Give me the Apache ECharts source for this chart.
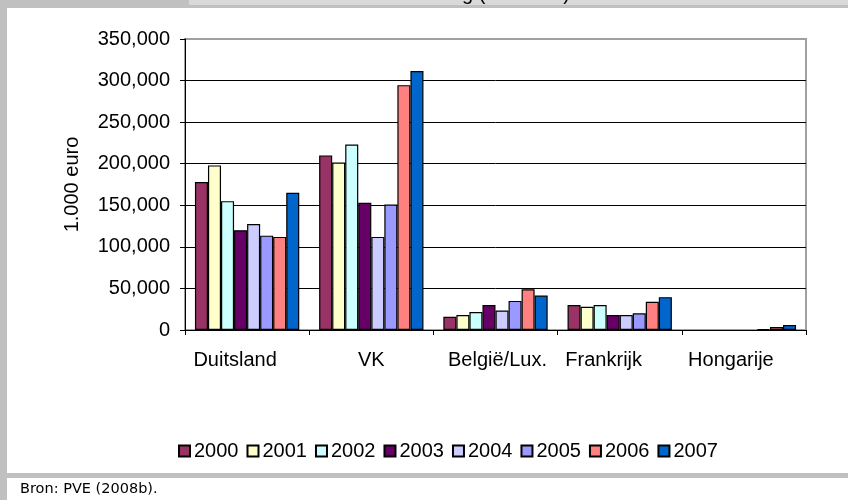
<!DOCTYPE html>
<html>
<head>
<meta charset="utf-8">
<script src="https://cdn.jsdelivr.net/npm/echarts@6/dist/echarts.min.js"></script>
<style>
html,body{margin:0;padding:0;background:#fff;}
#c{width:848px;height:500px;}
</style>
</head>
<body>
<div id="c"></div>
<script>
var categories = ['Duitsland', 'VK', 'België/Lux.', 'Frankrijk', 'Hongarije'];
var years = ['2000', '2001', '2002', '2003', '2004', '2005', '2006', '2007'];
var v2000 = [178000, 210000, 16000, 30000, null];
var v2001 = [198000, 201500, 18000, 28000, null];
var v2002 = [155000, 223000, 21500, 30000, null];
var v2003 = [120000, 153000, 30000, 18000, null];
var v2004 = [127500, 112000, 23500, 18000, null];
var v2005 = [113500, 151000, 35000, 20000, 1000];
var v2006 = [112000, 294500, 49000, 34000, 3500];
var v2007 = [165000, 311500, 41500, 39500, 6000];
var yTicks = [0, 50000, 100000, 150000, 200000, 250000, 300000, 350000];
var colors = ['#993366', '#FFFFCC', '#CCFFFF', '#660066', '#CCCCFF', '#9999FF', '#FF8080', '#0066CC'];
var seriesValues = [v2000, v2001, v2002, v2003, v2004, v2005, v2006, v2007];

var font = 'Liberation Sans, Arial, sans-serif';
var chart = echarts.init(document.getElementById('c'), null, {renderer: 'canvas'});

var series = years.map(function (y, i) {
  return {
    name: y,
    type: 'bar',
    data: seriesValues[i],
    barGap: '0%',
    barCategoryGap: '16%',
    itemStyle: {color: colors[i], borderColor: '#000', borderWidth: 1.2},
    emphasis: {disabled: true}
  };
});

var splitColors = yTicks.map(function (t, i) { return i === yTicks.length - 1 ? '#a0a0a0' : '#000'; });

// label shifts (Excel-like label placement)
var labelShift = {'Duitsland': -12, 'VK': 0, 'België/Lux.': 2, 'Frankrijk': -16, 'Hongarije': -13};
var rich = {};
categories.forEach(function (c, i) {
  var s = labelShift[c] || 0;
  rich['c' + i] = {
    fontFamily: font, fontSize: 20, color: '#000',
    padding: s < 0 ? [0, -2 * s, 0, 0] : [0, 0, 0, 2 * s]
  };
});

chart.setOption({
  animation: false,
  backgroundColor: '#fff',
  grid: {left: 185, right: 42, top: 39, bottom: 170, show: true, borderColor: '#a0a0a0', borderWidth: 2, backgroundColor: '#fff'},
  legend: {
    data: years,
    left: 173,
    top: 436,
    itemWidth: 11,
    itemHeight: 11,
    itemGap: 8,
    icon: 'rect',
    textStyle: {fontFamily: font, fontSize: 20, color: '#000', padding: [0, 0, 0, -1]}
  },
  xAxis: {
    type: 'category',
    data: categories,
    axisLine: {lineStyle: {color: '#000', width: 1}},
    axisTick: {show: true, length: 5, lineStyle: {color: '#000'}},
    axisLabel: {
      interval: 0,
      hideOverlap: false,
      fontFamily: font, fontSize: 20, color: '#000', margin: 20,
      formatter: function (v) { var i = categories.indexOf(v); return '{c' + i + '|' + v + '}'; },
      rich: rich
    }
  },
  yAxis: {
    type: 'value',
    min: 0,
    max: 350000,
    interval: 50000,
    name: '1.000 euro',
    nameLocation: 'middle',
    nameRotate: 90,
    nameGap: 103,
    nameTextStyle: {fontFamily: font, fontSize: 20, color: '#000'},
    axisLine: {show: true, lineStyle: {color: '#000', width: 1}},
    axisTick: {show: true, length: 5, lineStyle: {color: '#000'}},
    axisLabel: {
      fontFamily: font, fontSize: 20, color: '#000', margin: 15,
      formatter: function (v) { return v.toString().replace(/\B(?=(\d{3})+(?!\d))/g, ','); }
    },
    splitLine: {show: true, lineStyle: {color: splitColors, width: 1}}
  },
  series: series,
  graphic: [
    {type: 'rect', x: 0, y: 0, shape: {x: 0, y: 0, width: 848, height: 8}, style: {fill: '#c0c0c0'}, silent: true, z: 100},
    {type: 'rect', x: 0, y: 0, shape: {x: 189, y: 0, width: 659, height: 5}, style: {fill: '#d9d9d9'}, silent: true, z: 101},
    {type: 'text', x: 462, y: -16, style: {text: 'g (              )', fontFamily: font, fontSize: 20, fill: '#000'}, silent: true, z: 102},
    {type: 'rect', x: 0, y: 0, shape: {x: 0, y: 0, width: 7, height: 500}, style: {fill: '#c0c0c0'}, silent: true, z: 100},
    {type: 'rect', x: 0, y: 0, shape: {x: 0, y: 473, width: 848, height: 5}, style: {fill: '#c0c0c0'}, silent: true, z: 100},
    {type: 'text', x: 20, y: 482, style: {text: 'Bron: PVE (2008b).', fontFamily: 'DejaVu Sans, sans-serif', fontSize: 14.5, fill: '#000'}, silent: true, z: 100}
  ]
});
</script>
</body>
</html>
